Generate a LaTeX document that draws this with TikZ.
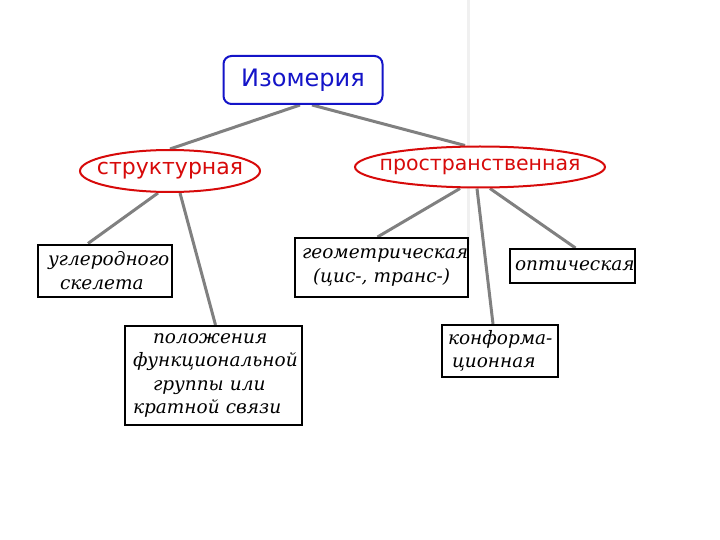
\documentclass[tikz,border=0pt]{standalone}
\usepackage{fontspec}
\setmainfont{Liberation Serif}
\newfontfamily\sansf{DejaVu Sans}
\newfontfamily\itf{DejaVu Serif}[ItalicFont={DejaVu Serif Italic}]
\usetikzlibrary{shapes.geometric,backgrounds}
\definecolor{isoblue}{RGB}{20,20,200}
\definecolor{ellred}{RGB}{215,10,10}
\definecolor{conngray}{RGB}{128,128,128}
\tikzset{
  conn/.style={draw=conngray, line width=3pt},
  blubox/.style={draw=isoblue, line width=2pt, rounded corners=8pt, fill=white,
    minimum width=159pt, minimum height=48pt, inner sep=0pt,
    text=isoblue, font=\sansf\fontsize{24}{28}\selectfont},
  redell/.style={ellipse, draw=ellred, line width=2pt, fill=white,
    inner xsep=-15pt, inner ysep=-10pt, text=ellred},
  blkbox/.style={draw=black, line width=2pt, fill=white, inner xsep=0pt, inner ysep=0pt,
    align=left, font=\itf\itshape\fontsize{18.5}{23.5}\selectfont},
}
\begin{document}
\begin{tikzpicture}[x=1pt,y=-1pt]
\useasboundingbox (0,0) rectangle (720,540);
\draw[gray!12, line width=3pt] (468,0) -- (468,245);

\node[blubox] (iso) at (303,80) {Изомерия};
\node[redell, minimum width=180pt, minimum height=42pt, font=\sansf\fontsize{22}{26}\selectfont] (st) at (170,171) {структурная};
\node[redell, minimum width=250pt, minimum height=41pt, font=\sansf\fontsize{20.5}{24}\selectfont] (pr) at (480,167) {пространственная};

\node[blkbox, text width=134pt, minimum height=52pt] (c1) at (105,270.5)
  {\hspace*{10pt}углеродного\\\hspace*{22pt}скелета};
\node[blkbox, text width=177pt, minimum height=99pt] (c2) at (213.5,375.5)
  {\hspace*{28pt}положения\\\hspace*{8pt}функциональной\\\hspace*{28pt}группы или\\\hspace*{8pt}кратной связи};
\node[blkbox, text width=173pt, minimum height=59pt] (g1) at (381.5,267.5)
  {\hspace*{7pt}геометрическая\\\hspace*{18pt}(цис-, транс-)};
\node[blkbox, text width=125pt, minimum height=34pt] (g2) at (572.5,266)
  {\hspace*{5pt}оптическая};
\node[blkbox, text width=116pt, minimum height=52pt] (g3) at (500,351)
  {\hspace*{6pt}конформа-\\\hspace*{10pt}ционная};

\begin{scope}[on background layer]
\draw[conn] ([xshift=-3pt]iso.south) -- (st.north);
\draw[conn] ([xshift=9pt]iso.south) -- ([xshift=-15pt]pr.north);
\draw[conn] ([xshift=-12pt]st.south) -- ([xshift=-17pt]c1.north);
\draw[conn] ([xshift=10pt]st.south) -- ([xshift=2pt]c2.north);
\draw[conn] ([xshift=-20pt]pr.south) -- ([xshift=-4pt]g1.north);
\draw[conn] ([xshift=-3pt]pr.south) -- ([xshift=-7pt]g3.north);
\draw[conn] ([xshift=10pt]pr.south) -- ([xshift=3pt]g2.north);
\end{scope}
\end{tikzpicture}
\end{document}
